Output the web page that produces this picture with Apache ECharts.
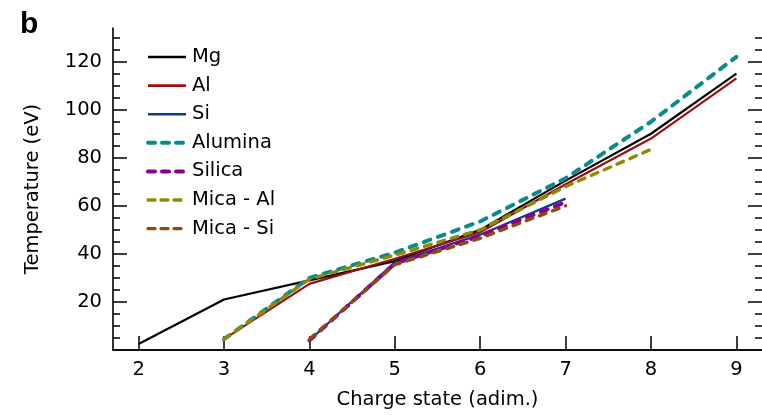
<!DOCTYPE html>
<html>
<head>
<meta charset="utf-8">
<script src="https://cdn.jsdelivr.net/npm/echarts@6/dist/echarts.min.js"></script>
<style>
  html, body { margin: 0; padding: 0; background: #fff; }
  #chart { width: 762px; height: 415px; }
</style>
</head>
<body>
<div id="chart"></div>
<script>
// Charge states on the x axis
const chargeStates = [2, 3, 4, 5, 6, 7, 8, 9];

// Temperature (eV) per charge state; null where the species has no value
const mgTemp      = [2.5, 21, 29, 37, 50, 70.5, 90, 115];
const alTemp      = [null, 4.5, 27.5, 38, 49, 69, 88, 113];
const siTemp      = [null, null, 4, 36.5, 48, 63, null, null];
const aluminaTemp = [null, 4.5, 30, 40.5, 53.5, 71.5, 95, 122];
const silicaTemp  = [null, null, 4, 36, 47.5, 61.5, null, null];
const micaAlTemp  = [null, 4.5, 29.5, 39.5, 50, 68, 83.5, null];
const micaSiTemp  = [null, null, 4.5, 35.5, 46.5, 60, null, null];

// Axis tick positions
const xTicks = [2, 3, 4, 5, 6, 7, 8, 9];
const yMajorTicks = [20, 40, 60, 80, 100, 120];
const yMinorTicks = [5, 10, 15, 25, 30, 35, 45, 50, 55, 65, 70, 75, 85, 90, 95, 105, 110, 115, 125, 130];

const FONT = 'DejaVu Sans';
const FS = 19.5;

function toPoints(temps) {
  const pts = [];
  temps.forEach((t, i) => { if (t !== null) pts.push([chargeStates[i], t]); });
  return pts;
}

function solid(name, temps, color) {
  return {
    name, type: 'line', data: toPoints(temps), symbol: 'none',
    lineStyle: { color, width: 2.2 }, itemStyle: { color },
    emphasis: { disabled: true }, animation: false
  };
}

function dashed(name, temps, color, width, dash) {
  return {
    name, type: 'line', data: toPoints(temps), symbol: 'none',
    lineStyle: { color, width, type: dash, cap: 'round' }, itemStyle: { color },
    emphasis: { disabled: true }, animation: false
  };
}

// legend swatches use a slightly tighter dash than the plotted lines
function legendItem(name, width, dash) {
  return {
    name,
    lineStyle: dash ? { width, type: dash, cap: 'round' } : { width: width, type: 'solid' }
  };
}

const axisLine = { show: true, lineStyle: { color: '#000', width: 1.6 } };

function yTickAxis(position, ticks, len, withLabels) {
  return {
    type: 'value', position, min: 0, max: 134,
    axisLine: withLabels ? axisLine : { show: false },
    splitLine: { show: false },
    axisTick: { show: true, inside: true, length: len, customValues: ticks,
                lineStyle: { color: '#000', width: 1.5 } },
    axisLabel: withLabels ? {
      show: true, customValues: ticks, margin: 11,
      color: '#000', fontFamily: FONT, fontSize: FS
    } : { show: false },
    name: withLabels ? 'Temperature (eV)' : '',
    nameLocation: 'middle', nameGap: 70,
    nameTextStyle: { color: '#000', fontFamily: FONT, fontSize: FS }
  };
}

const chart = echarts.init(document.getElementById('chart'), null, { renderer: 'canvas' });

chart.setOption({
  backgroundColor: '#fff',
  animation: false,
  grid: { left: 113, right: -4, top: 28, bottom: 64, containLabel: false },
  graphic: [{
    type: 'text', left: 20, top: 10,
    style: { text: 'b', fontFamily: 'Liberation Sans', fontWeight: 'bold', fontSize: 30, fill: '#000' }
  }],
  legend: {
    orient: 'vertical', left: 146, top: 47, padding: 0,
    itemWidth: 38, itemHeight: 20, itemGap: 8.6,
    itemStyle: { opacity: 0 },
    textStyle: { color: '#000', fontFamily: FONT, fontSize: FS, lineHeight: 20, padding: [0, 0, 0, 1] },
    data: [
      legendItem('Mg', 2.6),
      legendItem('Al', 2.6),
      legendItem('Si', 2.6),
      legendItem('Alumina', 4, [7, 7]),
      legendItem('Silica', 4, [7, 7]),
      legendItem('Mica - Al', 3.4, [7, 6]),
      legendItem('Mica - Si', 3.4, [7, 6])
    ]
  },
  xAxis: [{
    type: 'value', position: 'bottom', min: 1.7, max: 9.3,
    axisLine,
    splitLine: { show: false },
    axisTick: { show: true, inside: true, length: 14, customValues: xTicks,
                lineStyle: { color: '#000', width: 1.5 } },
    axisLabel: { show: true, customValues: xTicks, margin: 10,
                 color: '#000', fontFamily: FONT, fontSize: FS },
    name: 'Charge state (adim.)', nameLocation: 'middle', nameGap: 40,
    nameTextStyle: { color: '#000', fontFamily: FONT, fontSize: FS }
  }, {
    type: 'value', position: 'top', min: 1.7, max: 9.3,
    axisLine, splitLine: { show: false },
    axisTick: { show: false }, axisLabel: { show: false }
  }],
  yAxis: [
    yTickAxis('left', yMajorTicks, 14, true),
    yTickAxis('left', yMinorTicks, 7, false),
    yTickAxis('right', yMajorTicks, 14, false),
    yTickAxis('right', yMinorTicks, 7, false)
  ],
  series: [
    solid('Mg', mgTemp, '#000000'),
    solid('Al', alTemp, '#9a0f0f'),
    solid('Si', siTemp, '#0b3f8c'),
    dashed('Alumina', aluminaTemp, '#0a8a8a', 4, [7, 8]),
    dashed('Silica', silicaTemp, '#8a008a', 4, [7, 8]),
    dashed('Mica - Al', micaAlTemp, '#8c8c00', 3.4, [7, 7]),
    dashed('Mica - Si', micaSiTemp, '#8f4a12', 3.4, [7, 7])
  ]
});
</script>
</body>
</html>
